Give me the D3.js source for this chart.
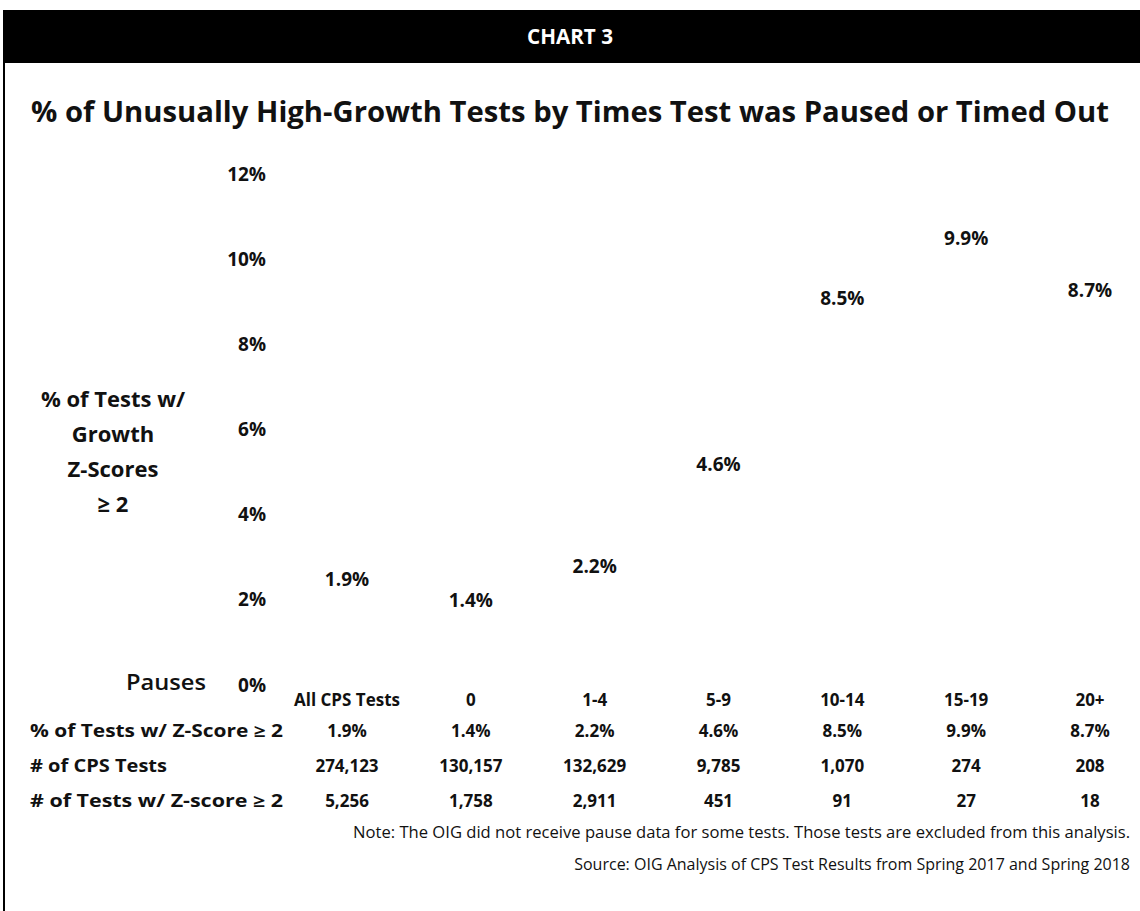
<!DOCTYPE html>
<meta charset="utf-8">
<style>
    body { margin: 0; background: #ffffff; }
    svg { display: block; }
    text { font-family: "Open Sans", Lato, sans-serif; fill: #111111; }
    .bold { font-weight: bold; }
</style>
<svg width="1140" height="911"></svg>
<script src="https://cdnjs.cloudflare.com/ajax/libs/d3/7.8.5/d3.min.js"></script>
<script>

    var categories = ["All CPS Tests", "0", "1-4", "5-9", "10-14", "15-19", "20+"];
    var pctHigh = [1.9, 1.4, 2.2, 4.6, 8.5, 9.9, 8.7];
    var cpsTests = [274123, 130157, 132629, 9785, 1070, 274, 208];
    var highTests = [5256, 1758, 2911, 451, 91, 27, 18];
    var yTicks = [0, 2, 4, 6, 8, 10, 12];

    var svg = d3.select("svg"),
        width = +svg.attr("width"),
        height = +svg.attr("height");

    // header band
    svg.append("rect")
        .attr("x", 3).attr("y", 10)
        .attr("width", width - 3).attr("height", 53)
        .attr("fill", "#000000");

    svg.append("text")
        .attr("class", "bold")
        .attr("x", 570).attr("y", 44)
        .attr("text-anchor", "middle")
        .attr("textLength", 86)
        .attr("lengthAdjust", "spacingAndGlyphs")
        .style("fill", "#ffffff")
        .style("font-size", "21px")
        .text("CHART 3");

    // left frame line
    svg.append("line")
        .attr("x1", 4).attr("x2", 4)
        .attr("y1", 63).attr("y2", height)
        .attr("stroke", "#000000")
        .attr("stroke-width", 2);

    svg.append("text")
        .attr("class", "bold")
        .attr("x", 570).attr("y", 122)
        .attr("text-anchor", "middle")
        .attr("textLength", 1078)
        .attr("lengthAdjust", "spacingAndGlyphs")
        .style("font-size", "28px")
        .text("% of Unusually High-Growth Tests by Times Test was Paused or Timed Out");

    var x = d3.scalePoint()
        .domain(categories)
        .range([347, 1090]);

    var y = d3.scaleLinear()
        .domain([0, 12])
        .range([685, 174]);

    // y tick labels only, no axis line or tick marks
    var yAxis = svg.append("g")
        .attr("transform", "translate(266,0)")
        .call(d3.axisLeft(y).tickValues(yTicks).tickSize(0).tickPadding(0)
            .tickFormat(function (d) { return d + "%"; }));
    yAxis.select(".domain").remove();
    yAxis.selectAll("text")
        .attr("class", "bold")
        .style("font-family", "'Open Sans', Lato, sans-serif")
        .style("font-size", "19px")
        .style("fill", "#111111");

    // y axis title
    var yTitle = ["% of Tests w/", "Growth", "Z-Scores", "\u2265 2"];
    svg.append("text")
        .attr("class", "bold")
        .attr("text-anchor", "middle")
        .style("font-size", "22px")
        .selectAll("tspan")
        .data(yTitle)
        .enter().append("tspan")
        .attr("x", 113)
        .attr("y", function (d, i) { return 407 + i * 35; })
        .text(function (d) { return d; });

    // bars are white in the original
    var barW = x.step() * 0.6;
    svg.append("g")
        .selectAll("rect")
        .data(pctHigh)
        .enter().append("rect")
        .attr("x", function (d, i) { return x(categories[i]) - barW / 2; })
        .attr("y", function (d) { return y(d); })
        .attr("width", barW)
        .attr("height", function (d) { return y(0) - y(d); })
        .attr("fill", "#ffffff");

    var pct = function (d) { return d3.format(".1f")(d) + "%"; };

    svg.append("g")
        .selectAll("text")
        .data(pctHigh)
        .enter().append("text")
        .attr("class", "bold")
        .attr("x", function (d, i) { return x(categories[i]); })
        .attr("y", function (d) { return y(d) - 18; })
        .attr("text-anchor", "middle")
        .style("font-size", "19px")
        .text(pct);

    // data table
    svg.append("text")
        .attr("x", 166).attr("y", 690)
        .attr("text-anchor", "middle")
        .attr("textLength", 80)
        .attr("lengthAdjust", "spacingAndGlyphs")
        .style("font-size", "21px")
        .style("font-weight", "600")
        .text("Pauses");

    var rows = [
        { label: null, values: categories, fmt: function (d) { return d; } },
        { label: "% of Tests w/ Z-Score \u2265 2", len: 253, values: pctHigh, fmt: pct },
        { label: "# of CPS Tests", len: 137, values: cpsTests, fmt: d3.format(",") },
        { label: "# of Tests w/ Z-score \u2265 2", len: 253, values: highTests, fmt: d3.format(",") }
    ];
    var rowY = [706, 737, 772, 807];

    rows.forEach(function (row, r) {
        if (row.label) {
            svg.append("text")
                .attr("class", "bold")
                .attr("x", 30).attr("y", rowY[r])
                .attr("textLength", row.len)
                .attr("lengthAdjust", "spacingAndGlyphs")
                .style("font-size", "17px")
                .text(row.label);
        }
        svg.append("g")
            .selectAll("text")
            .data(row.values)
            .enter().append("text")
            .attr("class", "bold")
            .attr("x", function (d, i) { return x(categories[i]); })
            .attr("y", rowY[r])
            .attr("text-anchor", "middle")
            .style("font-size", "17px")
            .text(row.fmt);
    });

    svg.append("text")
        .attr("x", 1130).attr("y", 838)
        .attr("text-anchor", "end")
        .style("font-size", "16.6px")
        .text("Note: The OIG did not receive pause data for some tests. Those tests are excluded from this analysis.");

    svg.append("text")
        .attr("x", 1130).attr("y", 870)
        .attr("text-anchor", "end")
        .style("font-size", "16px")
        .text("Source: OIG Analysis of CPS Test Results from Spring 2017 and Spring 2018");

</script>
